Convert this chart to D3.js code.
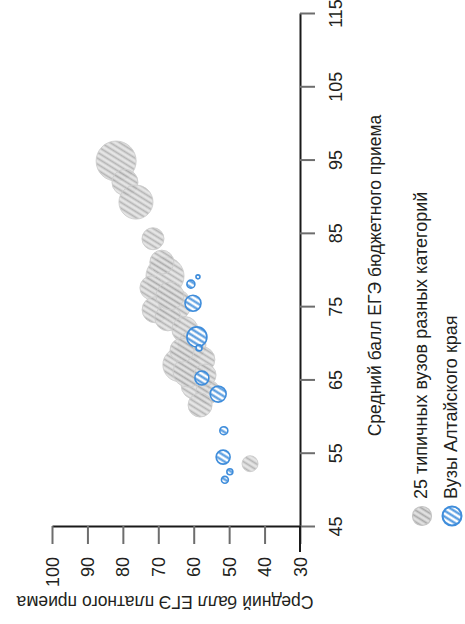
<!DOCTYPE html>
<html><head><meta charset="utf-8">
<script src="https://cdn.jsdelivr.net/npm/d3@7"></script>
<style>
body{margin:0;background:#fff}
text{font-family:"Liberation Sans",Arial,sans-serif;fill:#231f20}
</style>
</head><body>
<svg id="c" width="465" height="624"></svg>
<script>
// ---- data ----
const grayBudget = [94.8, 91.9, 89.2, 84.2, 79.1, 77.5, 74.5, 75.2, 73.4, 71.8, 69.7, 67.0, 67.7, 64.2, 63.3, 61.5, 53.5, 76.4, 81.0, 66.0, 65.6, 69.0];
const grayPaid   = [81.9, 79.4, 76.3, 71.5, 68.1, 71.8, 70.9, 65.3, 67.3, 62.5, 60.5, 63.9, 57.7, 59.6, 56.0, 58.2, 44.1, 66.7, 69.0, 61.6, 56.8, 63.3];
const graySize   = [4000, 1690, 2890, 1210, 3610, 1440, 1690, 2560, 1690, 1690, 1960, 2890, 1690, 1960, 1440, 1440, 640, 1960, 1440, 2250, 1210, 1440];
const blueBudget = [79.0, 78.0, 75.4, 70.8, 69.3, 65.2, 63.0, 58.0, 54.4, 52.4, 51.3];
const bluePaid   = [58.8, 60.8, 60.2, 59.1, 58.5, 57.7, 53.1, 51.5, 51.7, 49.8, 51.2];
const blueSize   = [40, 160, 640, 1000, 90, 490, 640, 160, 490, 90, 120];
const budgetTicks = [45, 55, 65, 75, 85, 95, 105, 115];
const paidTicks = [30, 40, 50, 60, 70, 80, 90, 100];
const budgetTitle = "Средний балл ЕГЭ бюджетного приема";
const paidTitle = "Средний балл ЕГЭ платного приема";
const legendLabels = ["25 типичных вузов разных категорий", "Вузы Алтайского края"];

const svg = d3.select("#c");
const FS = 17.5, FT = 18;

// chart is drawn rotated 90° counter-clockwise
const yB = d3.scaleLinear().domain([45, 115]).range([526, 13]);   // budget -> vertical
const xP = d3.scaleLinear().domain([30, 100]).range([300, 52]);   // paid -> horizontal
const rS = d3.scaleSqrt().domain([0, 4000]).range([0, 20]);

// patterns
const defs = svg.append("defs");
function stripe(id, bg, fg, w) {
  const p = defs.append("pattern").attr("id", id).attr("patternUnits", "userSpaceOnUse")
    .attr("width", 5).attr("height", 5).attr("patternTransform", "rotate(32)");
  p.append("rect").attr("width", 5).attr("height", 5).attr("fill", bg);
  p.append("line").attr("x1", 0).attr("x2", 5).attr("y1", 2.5).attr("y2", 2.5)
    .attr("stroke", fg).attr("stroke-width", w);
}
stripe("pg", "#e0e0e0", "#a8a8a8", 1.8);
stripe("pb", "#ffffff", "#4a94de", 2.2);

// axes
const gx = svg.append("g").attr("transform", "translate(300,0)")
  .call(d3.axisRight(yB).tickValues(budgetTicks).tickSize(15).tickSizeOuter(0));
const gy = svg.append("g").attr("transform", "translate(0,526)")
  .call(d3.axisBottom(xP).tickValues(paidTicks).tickSize(18).tickSizeOuter(0));
[gx, gy].forEach(g => {
  g.select(".domain").attr("stroke", "#1a1a1a").attr("stroke-width", 2);
  g.selectAll(".tick line").attr("stroke", "#6d6d6d").attr("stroke-width", 2);
  g.selectAll(".tick text").attr("font-size", FT).attr("font-family", null).attr("fill", "#231f20");
});
gx.selectAll(".tick text").attr("x", null).attr("dy", null)
  .attr("text-anchor", "middle").attr("dominant-baseline", "central")
  .attr("transform", "translate(36,0) rotate(-90)");
gy.selectAll(".tick text").attr("y", null).attr("dy", null)
  .attr("text-anchor", "end").attr("dominant-baseline", "central")
  .attr("transform", "translate(0,31) rotate(-90)");
// extension of vertical axis below the corner
svg.append("line").attr("x1", 300).attr("x2", 300).attr("y1", 526).attr("y2", 552)
  .attr("stroke", "#1a1a1a").attr("stroke-width", 2);

// titles
svg.append("text").attr("transform", `translate(375,${(yB(45) + yB(115)) / 2 + 6}) rotate(-90)`)
  .attr("text-anchor", "middle").attr("dominant-baseline", "central").attr("font-size", FS).text(budgetTitle);
svg.append("text").attr("transform", "translate(165,602) rotate(180)")
  .attr("text-anchor", "middle").attr("dominant-baseline", "central").attr("font-size", FS).text(paidTitle);

// bubbles
const gray = grayBudget.map((b, i) => ({b, p: grayPaid[i], s: graySize[i]}));
const blue = blueBudget.map((b, i) => ({b, p: bluePaid[i], s: blueSize[i]}));
svg.append("g").selectAll("circle").data(gray).join("circle")
  .attr("cx", d => xP(d.p)).attr("cy", d => yB(d.b)).attr("r", d => rS(d.s))
  .attr("fill", "url(#pg)").attr("fill-opacity", 0.85)
  .attr("stroke", "#cccccc").attr("stroke-width", 1).attr("stroke-opacity", 0.9);
svg.append("g").selectAll("circle").data(blue).join("circle")
  .attr("cx", d => xP(d.p)).attr("cy", d => yB(d.b)).attr("r", d => rS(d.s))
  .attr("fill", "url(#pb)").attr("fill-opacity", 0.95)
  .attr("stroke", "#3f8ddb").attr("stroke-width", 1.6);

// legend
const leg = [{x: 422, fill: "url(#pg)", stroke: "#c4c4c4"}, {x: 452, fill: "url(#pb)", stroke: "#3f8ddb"}];
leg.forEach((l, i) => {
  svg.append("circle").attr("cx", l.x).attr("cy", 516).attr("r", 9.5)
    .attr("fill", l.fill).attr("stroke", l.stroke).attr("stroke-width", i ? 2 : 1.2);
  svg.append("text").attr("transform", `translate(${l.x - 1},499) rotate(-90)`)
    .attr("text-anchor", "start").attr("dominant-baseline", "central").attr("font-size", 18)
    .text(legendLabels[i]);
});
</script>
</body></html>
